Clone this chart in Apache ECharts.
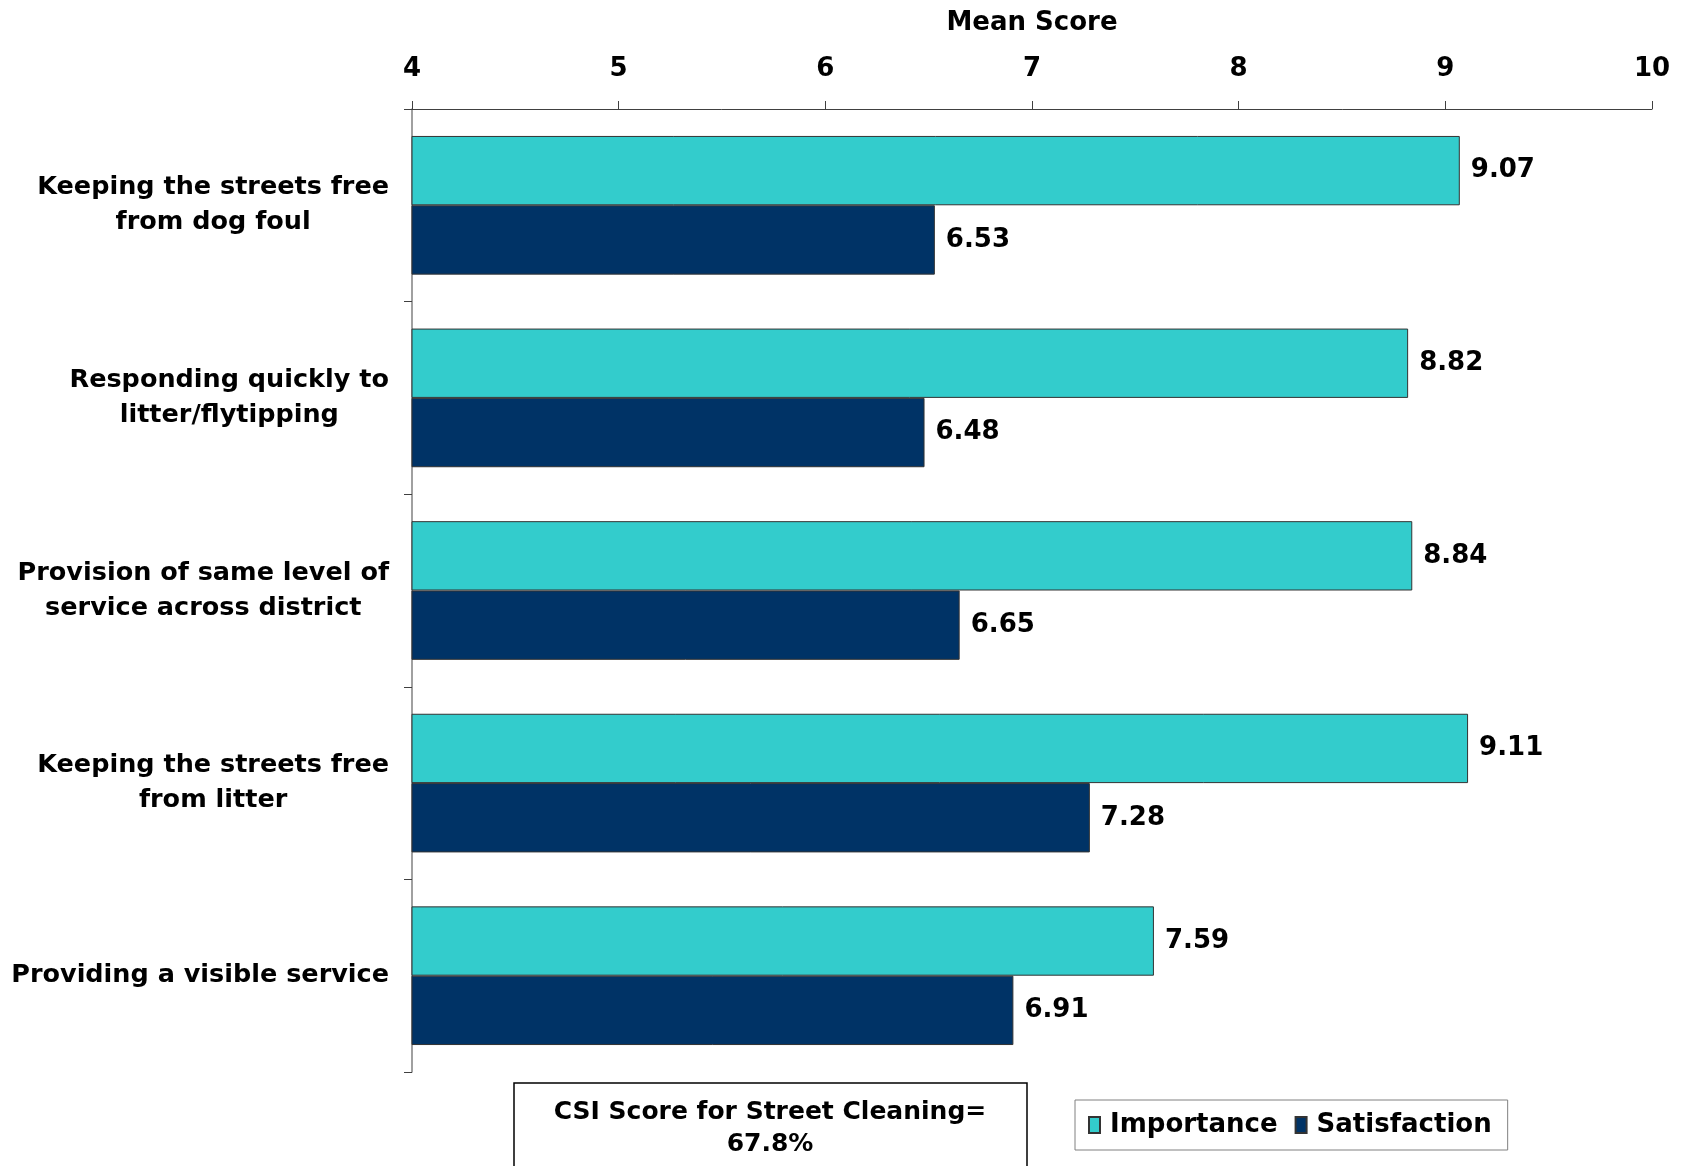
<!DOCTYPE html>
<html>
<head>
<meta charset="utf-8">
<script src="https://cdn.jsdelivr.net/npm/echarts@6/dist/echarts.min.js"></script>
<style>
  html, body { margin: 0; padding: 0; background: #fff; }
  #chart { width: 1686px; height: 1166px; }
</style>
</head>
<body>
<div id="chart"></div>
<script>
// 数据
const categories = [
    'Keeping the streets free\nfrom dog foul',
    'Responding quickly to\nlitter/flytipping',
    'Provision of same level of\nservice across district',
    'Keeping the streets free\nfrom litter',
    'Providing a visible service'
];
const importance = [9.07, 8.82, 8.84, 9.11, 7.59];
const satisfaction = [6.53, 6.48, 6.65, 7.28, 6.91];
const seriesNames = ['Importance', 'Satisfaction'];
const axisName = 'Mean Score';
const csiLines = ['CSI Score for Street Cleaning=', '67.8%'];

const FONT = '"DejaVu Sans", Verdana, sans-serif';

const chart = echarts.init(document.getElementById('chart'));

const valueLabel = {
    show: true, position: 'right', distance: 11,
    fontFamily: FONT, fontWeight: 'bold', fontSize: 26, color: '#000'
};

chart.setOption({
    animation: false,
    backgroundColor: '#fff',
    textStyle: { fontFamily: FONT },
    grid: { left: 412, right: 34, top: 109, bottom: 94 },
    legend: {
        data: seriesNames,
        left: 1075,
        top: 1100,
        icon: 'rect',
        itemWidth: 11,
        itemHeight: 16,
        itemGap: 17,
        padding: [12, 16, 12, 13],
        borderColor: '#808080',
        borderWidth: 1,
        backgroundColor: '#fff',
        textStyle: {
            fontFamily: FONT, fontWeight: 'bold', fontSize: 26, color: '#000',
            padding: [0, 0, 0, 5]
        }
    },
    xAxis: {
        type: 'value',
        position: 'top',
        min: 4,
        max: 10,
        interval: 1,
        name: axisName,
        nameLocation: 'middle',
        nameGap: 73,
        nameTextStyle: { fontFamily: FONT, fontWeight: 'bold', fontSize: 26, color: '#000' },
        axisLine: { show: true, lineStyle: { color: '#404040', width: 1 } },
        axisTick: { show: true, length: 8, lineStyle: { color: '#404040' } },
        axisLabel: { margin: 27, fontFamily: FONT, fontWeight: 'bold', fontSize: 26, color: '#000' },
        splitLine: { show: false }
    },
    yAxis: {
        type: 'category',
        inverse: true,
        data: categories,
        axisLine: { show: true, lineStyle: { color: '#808080', width: 1.5 } },
        axisTick: { show: true, length: 8, lineStyle: { color: '#404040' } },
        axisLabel: {
            margin: 23,
            align: 'right',
            formatter: (v) => v.split('\n').map((s) => '{c|' + s + '}').join('\n'),
            rich: {
                c: { align: 'center', fontFamily: FONT, fontWeight: 'bold', fontSize: 25.5, color: '#000', lineHeight: 35 }
            }
        }
    },
    series: [
        {
            name: seriesNames[0],
            type: 'bar',
            data: importance,
            barGap: '0%',
            barCategoryGap: '28%',
            itemStyle: { color: '#33CCCC', borderColor: '#333', borderWidth: 1 },
            label: valueLabel
        },
        {
            name: seriesNames[1],
            type: 'bar',
            data: satisfaction,
            barGap: '0%',
            barCategoryGap: '28%',
            itemStyle: { color: '#003366', borderColor: '#333', borderWidth: 1 },
            label: valueLabel
        }
    ],
    graphic: [
        {
            type: 'rect',
            x: 514,
            y: 1083,
            shape: { width: 513, height: 100 },
            style: { fill: '#fff', stroke: '#000', lineWidth: 1.5 }
        },
        {
            type: 'text',
            x: 770,
            y: 1096,
            style: {
                text: csiLines.join('\n'),
                align: 'center',
                verticalAlign: 'top',
                fontFamily: FONT,
                fontWeight: 'bold',
                fontSize: 25,
                lineHeight: 32,
                fill: '#000'
            }
        }
    ]
});

window.addEventListener('resize', () => chart.resize());
</script>
</body>
</html>
